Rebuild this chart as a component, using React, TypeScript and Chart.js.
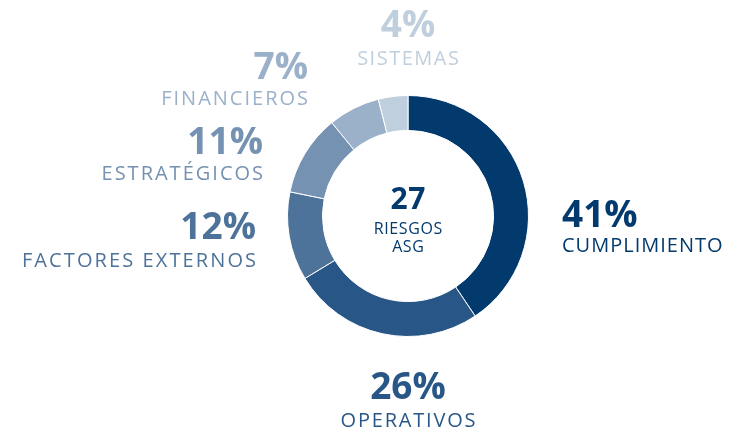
import React, { useEffect, useRef } from "react";
import { Chart, registerables } from "chart.js";

Chart.register(...registerables);

const categories = ["CUMPLIMIENTO", "OPERATIVOS", "FACTORES EXTERNOS", "ESTRATÉGICOS", "FINANCIEROS", "SISTEMAS"];
const percentages = [41, 26, 12, 11, 7, 4];
const colors = ["#033a6e", "#285787", "#4e739a", "#7592b2", "#9bb0c9", "#c0cfdd"];
const centerNumber = "27";
const centerLines = ["RIESGOS", "ASG"];

const FONT = "'Open Sans', sans-serif";

// label anchor: [x, baseline of %, baseline of name, align, name letter spacing]
const labelLayout: Array<[number, number, number, CanvasTextAlign, number]> = [
  [562, 227, 252, "left", 1.0],
  [408, 399, 427, "center", 1.8],
  [256, 239, 267, "right", 2.1],
  [263, 154, 180, "right", 2.0],
  [308, 79, 105, "right", 2.0],
  [408, 37, 65, "center", 1.5],
];

function drawSpaced(ctx: any, text: string, x: number, y: number, align: CanvasTextAlign, spacing: number) {
  ctx.letterSpacing = spacing + "px";
  const w = ctx.measureText(text).width;
  ctx.textAlign = "left";
  let sx = x;
  if (align === "right") sx = x - w + spacing;
  else if (align === "center") sx = x - (w - spacing) / 2;
  ctx.fillText(text, sx, y);
  ctx.letterSpacing = "0px";
}

const labelsPlugin = {
  id: "labelsPlugin",
  afterDraw(chart: any) {
    const ctx = chart.ctx;
    const meta = chart.getDatasetMeta(0);
    const arc = meta.data[0];
    const cx = arc.x;
    const cy = arc.y;
    ctx.save();
    ctx.textBaseline = "alphabetic";
    categories.forEach((name, i) => {
      const [x, by1, by2, align, sp] = labelLayout[i];
      ctx.fillStyle = colors[i];
      ctx.font = `700 37px ${FONT}`;
      drawSpaced(ctx, percentages[i] + "%", x, by1, align, 0);
      ctx.font = `400 20px ${FONT}`;
      drawSpaced(ctx, name, x, by2, align, sp);
    });
    ctx.fillStyle = colors[0];
    ctx.font = `700 30px ${FONT}`;
    drawSpaced(ctx, centerNumber, cx, cy - 7, "center", 0.5);
    ctx.font = `400 16px ${FONT}`;
    drawSpaced(ctx, centerLines[0], cx, cy + 18, "center", 0.6);
    drawSpaced(ctx, centerLines[1], cx, cy + 36, "center", 0.6);
    ctx.restore();
  },
};

export default function App() {
  const ref = useRef<HTMLCanvasElement | null>(null);
  useEffect(() => {
    if (!ref.current) return;
    const chart = new Chart(ref.current, {
      type: "doughnut",
      data: {
        labels: categories,
        datasets: [
          {
            data: percentages,
            backgroundColor: colors,
            borderColor: "#ffffff",
            borderWidth: 1,
          },
        ],
      },
      options: {
        animation: false,
        responsive: false,
        cutout: "71%",
        layout: { padding: { left: 287, right: 211, top: 95, bottom: 98 } },
        plugins: { legend: { display: false }, tooltip: { enabled: false } },
      },
      plugins: [labelsPlugin],
    });
    return () => chart.destroy();
  }, []);
  return (
    <div style={{ position: "fixed", left: 0, top: 0, width: 740, height: 435, background: "#fff" }}>
      <canvas ref={ref} width={740} height={435} style={{ width: 740, height: 435, display: "block" }} />
    </div>
  );
}
